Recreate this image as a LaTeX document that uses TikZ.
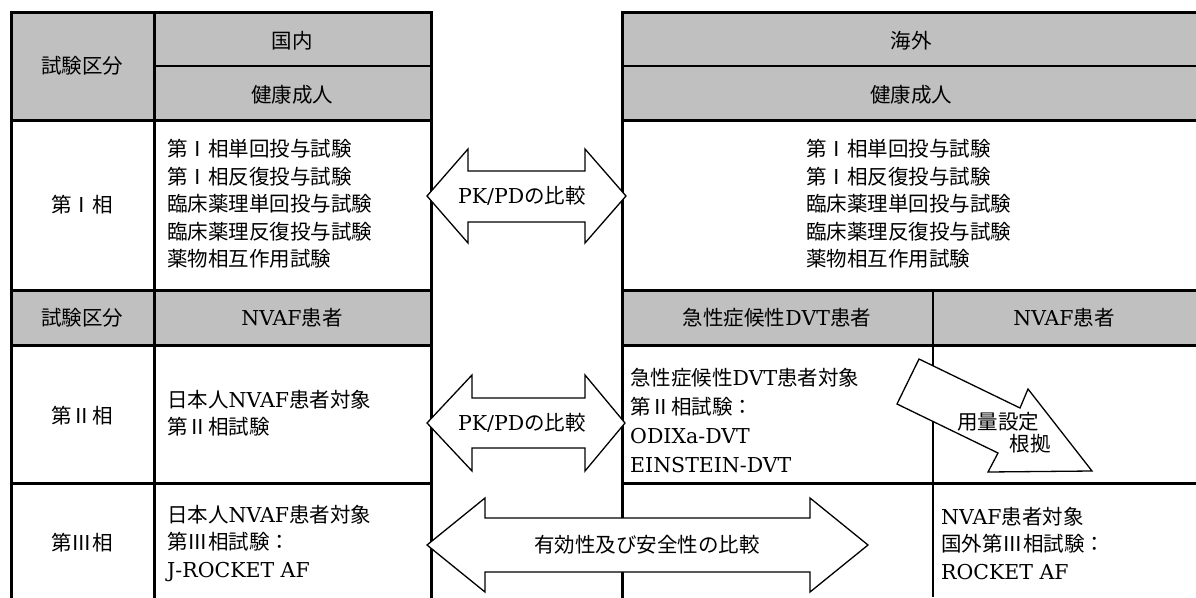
\documentclass[tikz,border=0pt]{standalone}
\usepackage{fontspec}
\setmainfont{Noto Sans CJK JP}
\newfontfamily\latf{DejaVu Serif}
\newcommand\lt[1]{{\latf #1}}
\definecolor{hdr}{HTML}{C0C0C0}
\begin{document}
\begin{tikzpicture}[x=1pt,y=-1pt,
  thk/.style={line width=3pt,line cap=rect},
  thn/.style={line width=1.3pt},
  mid/.style={line width=2pt},
  blk/.style={draw,line width=1.3pt,fill=white,line join=miter},
  txt/.style={inner sep=0pt,font=\fontsize{20.5}{27.5}\selectfont},
  lst/.style={txt,align=left,anchor=west}]
\useasboundingbox (0,0) rectangle (1196,597);
% gray header fills
\fill[hdr] (11,12) rectangle (431,120);
\fill[hdr] (622,12) rectangle (1196,120);
\fill[hdr] (11,290) rectangle (431,345);
\fill[hdr] (622,290) rectangle (1196,345);
% table lines
\draw[thn] (154,66) -- (431,66);
\draw[thn] (622,66) -- (1196,66);
\foreach \yy in {12,120,290,345,483}{
  \draw[thk] (11,\yy) -- (431,\yy);
  \draw[thk] (622,\yy) -- (1196,\yy);
}
\foreach \xx in {11,154,431,622}{
  \draw[thk] (\xx,12) -- (\xx,597);
}
\draw[mid] (933,290) -- (933,597);
% PK/PD arrow phase I
\draw[blk] (427,196) -- (468,149) -- (468,171) -- (585,171) -- (585,149) -- (626,196)
  -- (585,243) -- (585,222) -- (468,222) -- (468,243) -- cycle;
% PK/PD arrow phase II
\draw[blk] (427,423) -- (472,375) -- (472,398) -- (585,398) -- (585,375) -- (625,423)
  -- (585,471) -- (585,448) -- (472,448) -- (472,471) -- cycle;
% efficacy/safety arrow phase III
\draw[blk] (427,545) -- (485,498) -- (485,518) -- (810,518) -- (810,498) -- (868,545)
  -- (810,592) -- (810,572) -- (485,572) -- (485,592) -- cycle;
% dose-setting arrow
\draw[blk] (919,359) -- (1020,408) -- (1028,389) -- (1092,471) -- (988,472)
  -- (998,453) -- (897,404) -- cycle;
% header texts
\node[txt] (kubun1) at (82,66) {試験区分};
\node[txt] (kokunai) at (292,41) {国内};
\node[txt] (kenko1) at (292,95) {健康成人};
\node[txt] (kaigai) at (911,41) {海外};
\node[txt] (kenko2) at (911,95) {健康成人};
% phase I
\node[txt] (p1) at (82,205) {第Ⅰ相};
\node[lst] (p1l) at (167,204) {第Ⅰ相単回投与試験\\第Ⅰ相反復投与試験\\臨床薬理単回投与試験\\臨床薬理反復投与試験\\薬物相互作用試験};
\node[lst] (p1r) at (806,204) {第Ⅰ相単回投与試験\\第Ⅰ相反復投与試験\\臨床薬理単回投与試験\\臨床薬理反復投与試験\\薬物相互作用試験};
\node[txt] (pk1) at (522,196) {\lt{PK/PD}の比較};
% second header row
\node[txt] (kubun2) at (82,318) {試験区分};
\node[txt] (nvaf1) at (292,318) {\lt{NVAF}患者};
\node[txt] (dvt) at (777,318) {急性症候性\lt{DVT}患者};
\node[txt] (nvaf2) at (1064,318) {\lt{NVAF}患者};
% phase II
\node[txt] (p2) at (82,416) {第Ⅱ相};
\node[lst] (p2l) at (167,413) {日本人\lt{NVAF}患者対象\\第Ⅱ相試験};
\node[lst,font=\fontsize{20.5}{29}\selectfont] (p2r) at (630,420) {急性症候性\lt{DVT}患者対象\\第Ⅱ相試験：\\\lt{ODIXa-DVT}\\\lt{EINSTEIN-DVT}};
\node[txt] (pk2) at (522,423) {\lt{PK/PD}の比較};
\node[txt] (dose1) at (998,422) {用量設定};
\node[txt] (dose2) at (1030,444) {根拠};
% phase III
\node[txt] (p3) at (82,543) {第Ⅲ相};
\node[lst] (p3l) at (167,543) {日本人\lt{NVAF}患者対象\\第Ⅲ相試験：\\\lt{J-ROCKET AF}};
\node[lst] (p3r) at (941,543) {\lt{NVAF}患者対象\\国外第Ⅲ相試験：\\\lt{ROCKET AF}};
\node[txt] (eff) at (647,545) {有効性及び安全性の比較};
\end{tikzpicture}
\end{document}
